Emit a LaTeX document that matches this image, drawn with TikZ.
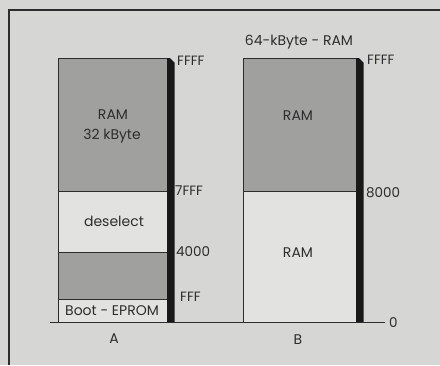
\documentclass[tikz,border=0pt]{standalone}
\usepackage{fontspec}
\setmainfont{Poppins}
\definecolor{bg}{RGB}{214,214,212}
\definecolor{dark}{RGB}{160,160,158}
\definecolor{light}{RGB}{226,226,224}
\definecolor{ink}{RGB}{45,45,45}
\tikzset{
  lbl/.style={text=ink, font=\fontsize{14}{16}\selectfont, inner sep=0pt},
  addr/.style={text=ink, font=\fontsize{13.5}{16}\selectfont, inner sep=0pt, anchor=west},
  region/.style={draw=ink, line width=0.7pt},
  bar/.style={fill=black!90, draw=none},
}
\begin{document}
\begin{tikzpicture}[x=1pt,y=-1pt]
\useasboundingbox (0,0) rectangle (440,365);
\fill[bg] (0,0) rectangle (440,365);
% outer frame (left and top edges)
\draw[ink, line width=1.8pt] (9,365) -- (9,10) -- (440,10);
% ---- Map A ----
\path[region, fill=dark] (58,58) rectangle (168,191);
\path[region, fill=light] (58,191) rectangle (168,252);
\path[region, fill=dark] (58,252) rectangle (168,299);
\path[region, fill=light] (58,299) rectangle (168,322);
\fill[bar] (167,58) -- (170,58) -- (174.5,62.5) -- (174.5,322) -- (167,322) -- cycle;
% ---- Map B ----
\path[region, fill=dark] (243,58) rectangle (357,191);
\path[region, fill=light] (243,191) rectangle (357,322);
\fill[bar] (356,58) -- (359,58) -- (363.5,62.5) -- (363.5,322) -- (356,322) -- cycle;
% baseline
\coordinate (bl) at (50,322);
\coordinate (br) at (385,322);
\draw[ink, line width=0.8pt] (bl) -- (br);
% texts A
\node[lbl] (ramA1) at (113,115) {RAM};
\node[lbl] (ramA2) at (112,136) {32 kByte};
\node[lbl] (desel) at (114,221) {deselect};
\node[lbl] (boot) at (112,311) {Boot - EPROM};
\node[lbl] (A) at (114,339) {A};
\node[addr] (a1) at (177,61) {FFFF};
\node[addr] (a2) at (175,191) {7FFF};
\node[addr] (a3) at (176,252) {4000};
\node[addr] (a4) at (180,297) {FFF};
% texts B
\node[lbl] (title) at (299,42) {64-kByte - RAM};
\node[lbl] (ramB1) at (298,116) {RAM};
\node[lbl] (ramB2) at (298,253) {RAM};
\node[lbl] (B) at (298,340) {B};
\node[addr] (b1) at (367,60) {FFFF};
\node[addr] (b2) at (366,193) {8000};
\node[addr] (b3) at (389,323) {0};
\end{tikzpicture}
\end{document}
